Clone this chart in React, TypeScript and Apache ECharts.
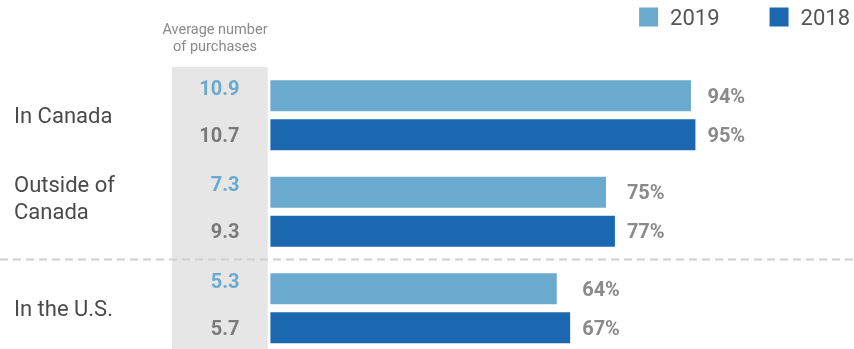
import React, { useEffect, useRef } from "react";
import * as echarts from "echarts";

const categories = ["In Canada", "Outside of\nCanada", "In the U.S."];
const share2019 = [94, 75, 64];
const share2018 = [95, 77, 67];
const avg2019 = [10.9, 7.3, 5.3];
const avg2018 = [10.7, 9.3, 5.7];
const seriesNames = ["2019", "2018"];

const X_MIN = -22;
const X_MAX = 130;
const GRID_LEFT = 172;
const GRID_WIDTH = 680;
const PX = GRID_WIDTH / (X_MAX - X_MIN);

const LIGHT = "#6aaacf";
const DARK = "#1b68b0";
const FONT = "Roboto";

export default function App() {
  const ref = useRef<HTMLDivElement>(null);
  useEffect(() => {
    if (!ref.current) return;
    const chart = echarts.init(ref.current, null, { renderer: "svg" });
    const groupMax = share2019.map((v, i) => Math.max(v, share2018[i]));
    const pctData = (arr: number[]) =>
      arr.map((v, i) => ({
        value: v,
        label: { offset: [(groupMax[i] - v) * PX, 0] },
      }));
    const pctLabel = {
      show: true,
      position: "right",
      distance: 12,
      formatter: "{c}%",
      fontFamily: FONT,
      fontSize: 20,
      fontWeight: "bold",
      color: "#8a8a8a",
    };
    const avgSeries = (name: string, stack: string, avgs: number[], color: string, dy: number) => ({
      name,
      type: "bar",
      stack,
      silent: true,
      barWidth: 31,
      itemStyle: { color: "transparent" },
      data: avgs.map(() => X_MIN),
      label: {
        show: true,
        position: "insideRight",
        distance: 31,
        offset: [0, dy],
        formatter: (p: any) => avgs[p.dataIndex].toFixed(1),
        fontFamily: FONT,
        fontSize: 20,
        fontWeight: "bold",
        color,
      },
    });
    chart.setOption({
      animation: false,
      legend: {
        data: seriesNames,
        right: 4,
        top: 6,
        padding: 0,
        icon: "rect",
        itemWidth: 19,
        itemHeight: 19,
        itemGap: 50,
        textStyle: {
          fontFamily: FONT,
          fontSize: 22,
          color: "#555",
          padding: [0, 0, 0, 7],
        },
      },
      grid: {
        left: GRID_LEFT,
        width: GRID_WIDTH,
        top: 67,
        height: 289.5,
        containLabel: false,
        outerBoundsMode: "none",
      },
      xAxis: {
        type: "value",
        min: X_MIN,
        max: X_MAX,
        show: false,
      },
      yAxis: {
        type: "category",
        inverse: true,
        data: categories,
        axisLine: { show: false },
        axisTick: { show: false },
        axisLabel: {
          align: "left",
          margin: GRID_LEFT - 14,
          fontFamily: FONT,
          fontSize: 22,
          lineHeight: 27,
          color: "#4a4a4a",
          formatter: (v: string) => (v.indexOf("\n") >= 0 ? v + "\n " : v),
        },
      },
      series: [
        {
          name: seriesNames[0],
          type: "bar",
          stack: "a",
          barWidth: 31,
          barGap: "26%",
          itemStyle: { color: LIGHT },
          label: pctLabel,
          data: pctData(share2019),
          markArea: {
            silent: true,
            itemStyle: { color: "#e6e6e6" },
            data: [[{ xAxis: X_MIN }, { xAxis: -0.6 }]],
          },
        },
        {
          name: seriesNames[1],
          type: "bar",
          stack: "b",
          barWidth: 31,
          barGap: "26%",
          itemStyle: { color: DARK },
          label: pctLabel,
          data: pctData(share2018),
        },
        avgSeries("avg2019", "a", avg2019, LIGHT, -8),
        avgSeries("avg2018", "b", avg2018, "#7a7a7a", 0),
      ],
      graphic: [
        {
          type: "text",
          x: 215,
          y: 21,
          style: {
            text: "Average number\nof purchases",
            align: "center",
            verticalAlign: "top",
            fontFamily: FONT,
            fontSize: 14.5,
            lineHeight: 17,
            fill: "#8a8a8a",
          },
        },
        {
          type: "line",
          z: 10,
          shape: { x1: 0, y1: 259.5, x2: 854, y2: 259.5 },
          style: { stroke: "#d0d0d0", lineWidth: 2, lineDash: [8, 5] },
        },
      ],
    });
    return () => chart.dispose();
  }, []);
  return (
    <div
      ref={ref}
      style={{ position: "fixed", left: 0, top: 0, width: 854, height: 349 }}
    />
  );
}
